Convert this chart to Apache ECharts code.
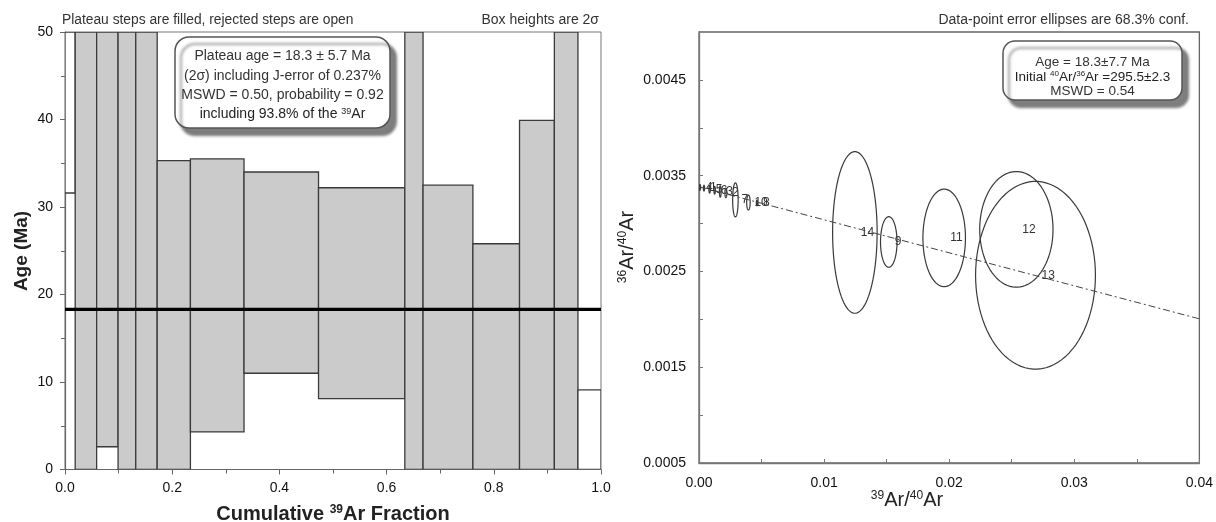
<!DOCTYPE html>
<html><head><meta charset="utf-8">
<script src="https://cdn.jsdelivr.net/npm/echarts@6/dist/echarts.min.js"></script>
<style>html,body{margin:0;padding:0;background:#fff}#c{width:1216px;height:522px}</style>
</head><body><div id="c"></div>
<script>
// ---- Age spectrum (left) ----
const stepStart   = [0.000, 0.019, 0.059, 0.099, 0.132, 0.172, 0.234, 0.334, 0.473, 0.634, 0.668, 0.761, 0.848, 0.913, 0.957];
const stepEnd     = [0.019, 0.059, 0.099, 0.132, 0.172, 0.234, 0.334, 0.473, 0.634, 0.668, 0.761, 0.848, 0.913, 0.957, 1.000];
const ageLow      = [31.6, -8.0, 2.6, -12.0, -15.0, -4.0, 4.3, 11.0, 8.1, -20.0, -3.0, -2.0, -1.0, -25.0, -10.0];
const ageHigh     = [75.0, 62.0, 68.0, 70.0, 80.0, 35.3, 35.5, 34.0, 32.2, 90.0, 32.5, 25.8, 39.9, 95.0, 9.1];
const stepPlateau = [0, 1, 1, 1, 1, 1, 1, 1, 1, 1, 1, 1, 1, 1, 0];
const plateauX    = [0, 1];
const plateauAge  = [18.3, 18.3];
const xTickLabelsLeft = ['0.0', '0.2', '0.4', '0.6', '0.8', '1.0'];
const yTickLabelsLeft = ['0', '10', '20', '30', '40', '50'];

// ---- Inverse isochron (right) ----
const ellLabel = ['4', '1', '5', '6', '3', '2', '7', '10', '8', '14', '9', '11', '12', '13'];
const ellX  = [0.00008, 0.00040, 0.00085, 0.00125, 0.00170, 0.00215, 0.00291, 0.00395, 0.00463, 0.01246, 0.01517, 0.01960, 0.02537, 0.02690];
const ellY  = [0.003378, 0.003370, 0.003358, 0.003348, 0.003335, 0.003320, 0.003247, 0.003220, 0.003215, 0.002907, 0.002808, 0.002850, 0.002939, 0.002460];
const ellRx = [0.00005, 0.00005, 0.00006, 0.00006, 0.00007, 0.00008, 0.00022, 0.00014, 0.00005, 0.00178, 0.00066, 0.00170, 0.00293, 0.00479];
const ellRy = [0.00003, 0.00003, 0.00004, 0.00004, 0.00006, 0.00005, 0.000178, 0.000078, 0.00003, 0.000844, 0.000264, 0.000509, 0.000604, 0.00098];
const isoX = [0, 0.04];
const isoY = [0.003384, 0.002005];
const xTickLabelsRight = ['0.00', '0.01', '0.02', '0.03', '0.04'];
const yTickLabelsRight = ['0.0005', '0.0015', '0.0025', '0.0035', '0.0045'];

const FONT = 'Liberation Sans, Arial, sans-serif';
const chart = echarts.init(document.getElementById('c'), null, {renderer: 'canvas'});

const stepData = stepStart.map((s, i) => [s, stepEnd[i], ageLow[i], ageHigh[i], stepPlateau[i]]);
const ellData = ellX.map((x, i) => [x, ellY[i], ellRx[i], ellRy[i]]);

function stepRender(params, api) {
  const p0 = api.coord([api.value(0), api.value(3)]);
  const p1 = api.coord([api.value(1), api.value(2)]);
  const cs = params.coordSys;
  const r = echarts.graphic.clipRectByRect(
    {x: p0[0], y: p0[1], width: p1[0] - p0[0], height: p1[1] - p0[1]},
    {x: cs.x, y: cs.y, width: cs.width, height: cs.height});
  if (!r) return;
  return {type: 'rect', shape: r,
    style: {fill: api.value(4) ? '#cbcbcb' : '#ffffff', stroke: '#3a3a3a', lineWidth: 1.3}};
}

function ellRender(params, api) {
  const cx = api.value(0), cy = api.value(1), rx = api.value(2), ry = api.value(3);
  const pts = [];
  for (let k = 0; k <= 90; k++) {
    const t = k / 90 * Math.PI * 2;
    pts.push(api.coord([cx + rx * Math.cos(t), cy + ry * Math.sin(t)]));
  }
  const c = api.coord([cx, cy]);
  return {type: 'group', children: [
    {type: 'polygon', shape: {points: pts}, style: {fill: 'none', stroke: '#3a3a3a', lineWidth: 1.2}},
    {type: 'text', x: c[0] + 6, y: c[1],
      style: {text: ellLabel[params.dataIndex], fill: '#333', font: '12px ' + FONT,
        align: 'left', verticalAlign: 'middle'}}
  ]};
}

const richBase = (size, weight) => ({
  n: {fontSize: size, fontFamily: FONT, fontWeight: weight, fill: '#222', lineHeight: size, verticalAlign: 'middle'},
  s: {fontSize: Math.round(size * 0.62), fontFamily: FONT, fontWeight: weight, fill: '#222', lineHeight: Math.round(size * 0.62), verticalAlign: 'top'}
});

function gText(x, y, text, size, opts) {
  opts = opts || {};
  return {type: 'text', x: x, y: y, rotation: opts.rot || 0, z: 100,
    style: {text: text, font: (opts.weight || 'normal') + ' ' + size + 'px ' + FONT, fill: opts.color || '#333',
      align: opts.align || 'center', verticalAlign: 'middle', rich: opts.rich}};
}

const option = {
  animation: false,
  backgroundColor: '#fff',
  grid: [
    {left: 65, right: 615, top: 32, bottom: 52.5, show: true, borderColor: '#777', borderWidth: 1, backgroundColor: 'transparent'},
    {left: 699, right: 16, top: 32, bottom: 59, show: true, borderColor: '#666', borderWidth: 1.3, backgroundColor: 'transparent'}
  ],
  xAxis: [
    {gridIndex: 0, type: 'value', min: 0, max: 1, interval: 0.2,
      axisLine: {onZero: false, lineStyle: {color: '#666', width: 1.2}},
      axisTick: {inside: false, length: 5, lineStyle: {color: '#666'}},
      minorTick: {show: true, splitNumber: 2, length: 4, lineStyle: {color: '#666'}},
      splitLine: {show: false},
      axisLabel: {margin: 12, color: '#111', fontSize: 14, fontFamily: FONT,
        formatter: v => xTickLabelsLeft[Math.round(v / 0.2)] || ''}},
    {gridIndex: 1, type: 'value', min: 0, max: 0.04, interval: 0.01,
      axisLine: {onZero: false, lineStyle: {color: '#777', width: 1.3}},
      axisTick: {inside: true, length: 4, lineStyle: {color: '#777'}},
      minorTick: {show: true, splitNumber: 2, length: 4, lineStyle: {color: '#777'}},
      splitLine: {show: false},
      axisLabel: {margin: 13, color: '#111', fontSize: 14, fontFamily: FONT,
        formatter: v => xTickLabelsRight[Math.round(v / 0.01)] || ''}}
  ],
  yAxis: [
    {gridIndex: 0, type: 'value', min: 0, max: 50, interval: 10,
      axisLine: {onZero: false, lineStyle: {color: '#666', width: 1.2}},
      axisTick: {inside: false, length: 5, lineStyle: {color: '#666'}},
      minorTick: {show: true, splitNumber: 2, length: 4, lineStyle: {color: '#666'}},
      splitLine: {show: false},
      axisLabel: {margin: 12, color: '#111', fontSize: 14, fontFamily: FONT,
        formatter: v => yTickLabelsLeft[Math.round(v / 10)] || ''}},
    {gridIndex: 1, type: 'value', min: 0.0005, max: 0.005, interval: 0.001,
      axisLine: {onZero: false, lineStyle: {color: '#777', width: 1.3}},
      axisTick: {inside: true, length: 4, lineStyle: {color: '#777'},
        customValues: [0.0005, 0.001, 0.0015, 0.002, 0.0025, 0.003, 0.0035, 0.004, 0.0045]},
      splitLine: {show: false},
      axisLabel: {margin: 13, color: '#111', fontSize: 14, fontFamily: FONT,
        customValues: [0.0005, 0.0015, 0.0025, 0.0035, 0.0045],
        formatter: v => yTickLabelsRight[Math.round((v - 0.0005) / 0.001)] || ''}}
  ],
  series: [
    {type: 'custom', xAxisIndex: 0, yAxisIndex: 0, renderItem: stepRender, data: stepData, encode: {x: [0, 1], y: [2, 3]}, clip: true, z: 2},
    {type: 'line', xAxisIndex: 0, yAxisIndex: 0, data: plateauX.map((x, i) => [x, plateauAge[i]]),
      symbol: 'none', lineStyle: {color: '#000', width: 3.2}, z: 5},
    {type: 'custom', xAxisIndex: 1, yAxisIndex: 1, renderItem: ellRender, data: ellData, encode: {x: 0, y: 1}, clip: true, z: 3},
    {type: 'line', xAxisIndex: 1, yAxisIndex: 1, data: isoX.map((x, i) => [x, isoY[i]]),
      symbol: 'none', lineStyle: {color: '#444', width: 1, type: [7, 3, 2, 3]}, z: 4}
  ],
  graphic: [
    gText(62, 20, 'Plateau steps are filled, rejected steps are open', 13.8, {align: 'left'}),
    gText(599, 20, 'Box heights are 2\u03c3', 14, {align: 'right'}),
    gText(1189, 20, 'Data-point error ellipses are 68.3% conf.', 14, {align: 'right'}),
    {type: 'rect', z: 90, shape: {x: 175, y: 37, width: 215, height: 91, r: 14},
      style: {fill: '#fff', stroke: '#555', lineWidth: 1.5, shadowBlur: 3, shadowOffsetX: 6, shadowOffsetY: 7, shadowColor: 'rgba(0,0,0,0.5)'}},
    gText(282.5, 56, 'Plateau age = 18.3 \u00b1 5.7 Ma', 14),
    gText(282.5, 76, '(2\u03c3) including J-error of 0.237%', 14),
    gText(282.5, 95.5, 'MSWD = 0.50, probability = 0.92', 14),
    gText(282.5, 114, '{n|including 93.8% of the }{s|39}{n|Ar}', 14, {rich: richBase(14, 'normal')}),
    {type: 'rect', z: 90, shape: {x: 1003, y: 41, width: 179, height: 59, r: 12},
      style: {fill: '#fff', stroke: '#555', lineWidth: 1.5, shadowBlur: 3, shadowOffsetX: 6, shadowOffsetY: 7, shadowColor: 'rgba(0,0,0,0.5)'}},
    gText(1092.5, 62, 'Age = 18.3\u00b17.7 Ma', 13.5),
    gText(1092.5, 77, '{n|Initial }{s|40}{n|Ar/}{s|36}{n|Ar =295.5\u00b12.3}', 13.5, {rich: richBase(13.5, 'normal')}),
    gText(1092.5, 91, 'MSWD = 0.54', 13.5),
    gText(22, 251, 'Age (Ma)', 19, {rot: Math.PI / 2, weight: 'bold', color: '#222'}),
    gText(333, 514, '{n|Cumulative }{s|39}{n|Ar Fraction}', 20, {weight: 'bold', rich: richBase(20, 'bold')}),
    gText(627, 247, '{s|36}{n|Ar/}{s|40}{n|Ar}', 20, {rot: Math.PI / 2, rich: richBase(20, 'normal')}),
    gText(907, 500, '{s|39}{n|Ar/}{s|40}{n|Ar}', 20, {rich: richBase(20, 'normal')})
  ]
};
chart.setOption(option);
</script></body></html>
